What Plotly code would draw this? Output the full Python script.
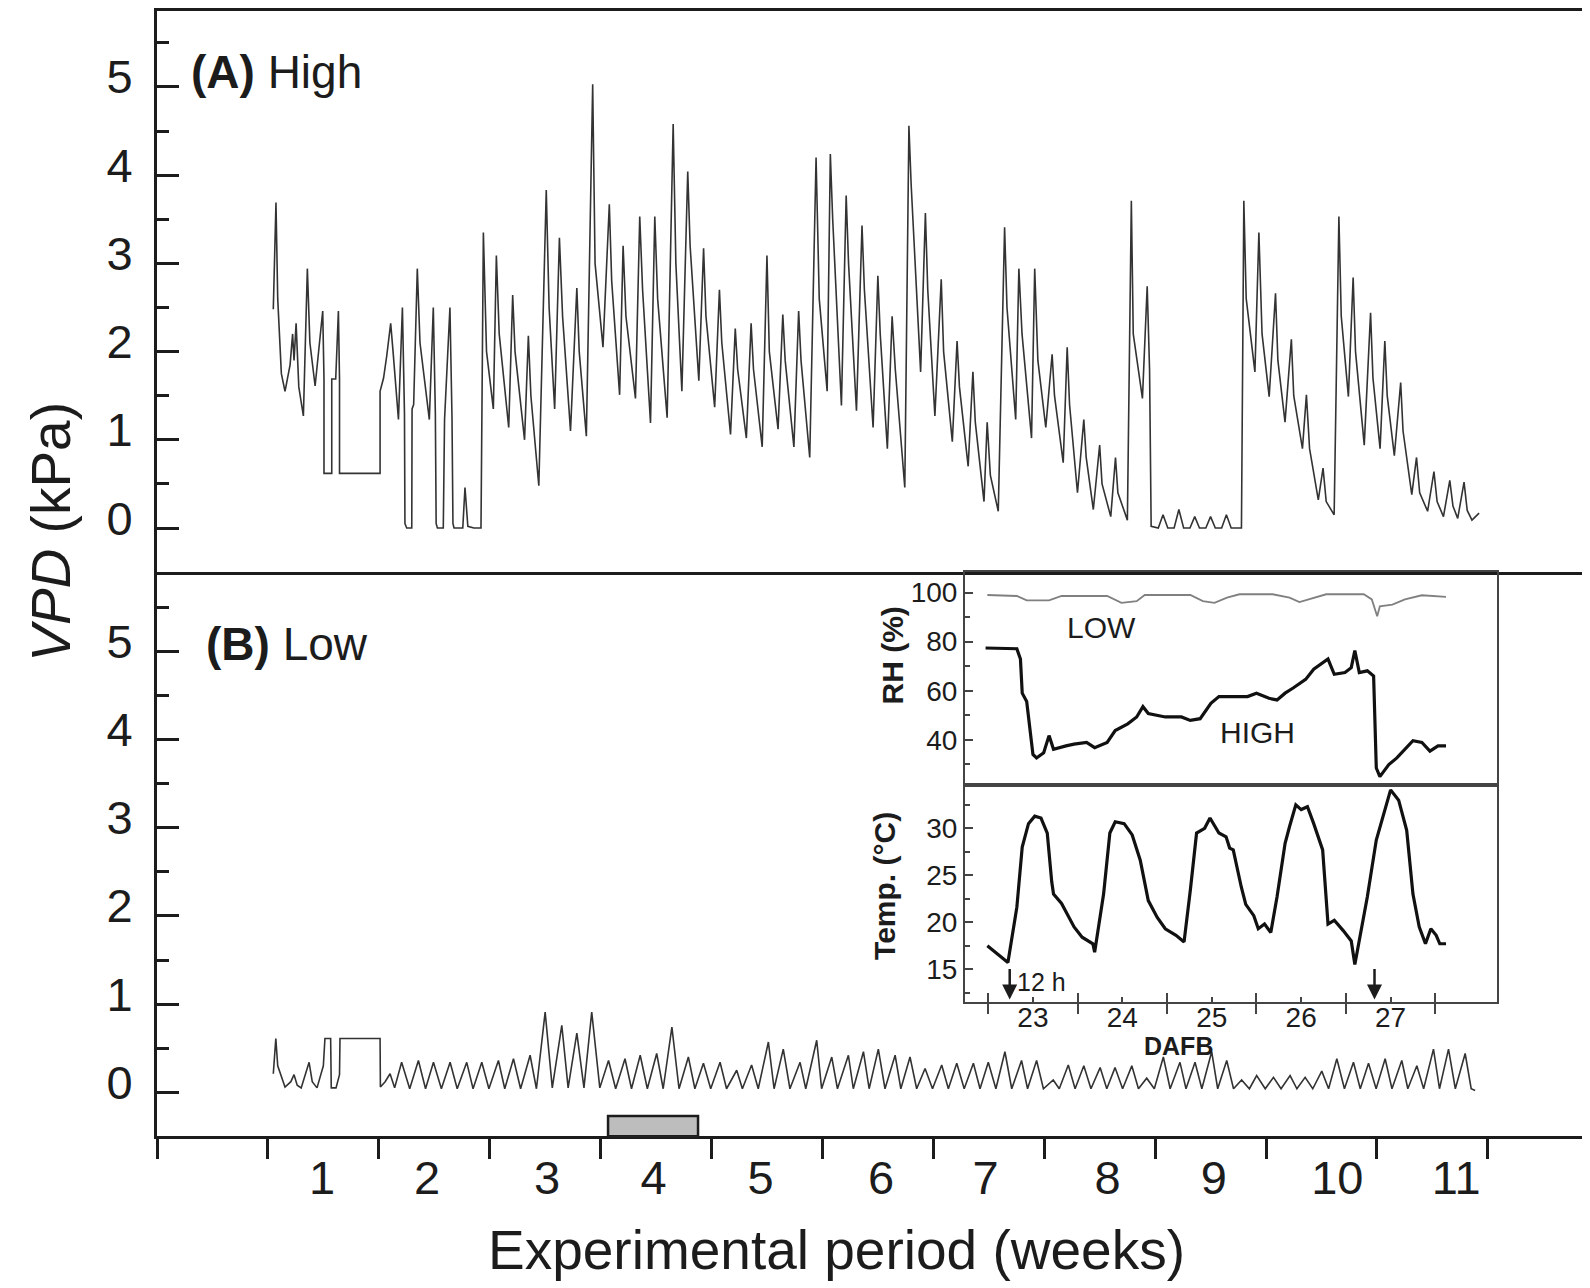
import plotly.graph_objects as go

# ---------------- data ----------------
# Panel A (High VPD): time in days from start of week 1, VPD in kPa
a_day = [0.34, 0.51, 0.62, 0.85, 1.08, 1.40, 1.56, 1.65, 1.78, 1.95, 2.24, 2.49, 2.65, 2.98,
         3.46, 3.54, 3.54, 4.03, 4.03, 4.28, 4.45, 4.52, 4.52, 7.08, 7.08, 7.30, 7.50, 7.75,
         7.90, 8.24, 8.49, 8.62, 8.65, 8.76, 9.08, 9.10, 9.20, 9.43, 9.60, 10.19, 10.44, 10.57,
         10.62, 10.70, 11.07, 11.15, 11.49, 11.62, 11.68, 11.75, 12.30, 12.44, 12.62, 13.00,
         13.45, 13.60, 13.80, 14.23, 14.42, 14.60, 15.20, 15.45, 15.60, 16.20, 16.44, 16.60,
         17.10, 17.57, 17.75, 18.10, 18.40, 18.60, 19.10, 19.50, 19.65, 20.10, 20.50, 20.65,
         21.15, 21.55, 21.70, 22.20, 22.42, 22.60, 23.20, 23.47, 23.65, 24.15, 24.42, 24.60,
         25.20, 25.58, 25.75, 26.13, 26.50, 26.65, 27.20, 27.50, 27.65, 28.20, 28.50, 28.65,
         29.20, 29.50, 29.65, 30.20, 30.50, 30.65, 31.20, 31.50, 31.65, 32.20, 32.50, 32.65,
         33.20, 33.50, 33.65, 34.20, 34.60, 34.80, 35.30, 35.50, 35.65, 36.20, 36.50, 36.65,
         37.15, 37.50, 37.65, 38.20, 38.50, 38.65, 39.10, 39.40, 39.60, 40.20, 40.46, 40.60,
         41.20, 41.50, 41.65, 42.10, 42.50, 42.65, 43.20, 43.50, 43.65, 44.20, 44.50, 44.65,
         45.20, 45.40, 45.60, 46.10, 46.50, 46.65, 47.20, 47.40, 47.60, 48.20, 48.40, 48.60,
         49.10, 49.50, 49.65, 50.20, 50.45, 50.60, 51.10, 51.50, 51.65, 52.10, 52.50, 52.65,
         53.20, 53.50, 53.65, 54.25, 54.50, 54.62, 55.20, 55.50, 55.65, 55.75, 56.20, 56.50,
         56.80, 57.20, 57.50, 57.80, 58.20, 58.50, 58.80, 59.20, 59.50, 59.80, 60.20, 60.50,
         60.80, 61.45, 61.60, 61.75, 62.30, 62.55, 62.75, 63.20, 63.60, 63.75, 64.20, 64.60,
         64.75, 65.30, 65.55, 65.75, 66.30, 66.60, 66.80, 67.30, 67.60, 67.75, 68.20, 68.50,
         68.65, 69.20, 69.60, 69.75, 70.20, 70.50, 70.65, 71.10, 71.50, 71.65, 72.20, 72.50,
         72.70, 73.20, 73.60, 73.80, 74.20, 74.60, 74.80, 75.10, 75.50, 75.70, 76.00, 76.45]
a_vpd = [2.48, 3.69, 2.60, 1.75, 1.55, 1.85, 2.20, 1.90, 2.32, 1.60, 1.27, 2.94, 2.10, 1.61,
         2.46, 1.69, 0.62, 0.62, 1.69, 1.69, 2.46, 1.69, 0.62, 0.62, 1.55, 1.70, 1.95, 2.32,
         2.00, 1.23, 2.50, 1.30, 0.05, 0.00, 0.00, 1.35, 1.40, 2.94, 2.10, 1.23, 2.50, 1.30,
         0.05, 0.00, 0.00, 1.23, 2.50, 1.25, 0.05, 0.00, 0.00, 0.46, 0.02, 0.00,
         0.00, 3.35, 2.00, 1.35, 3.09, 2.20, 1.14, 2.64, 2.00, 1.00, 2.18, 1.50,
         0.48, 3.83, 2.50, 1.35, 3.29, 2.40, 1.10, 2.72, 2.00, 1.04, 5.03, 3.00,
         2.05, 3.67, 2.80, 1.51, 3.20, 2.40, 1.47, 3.53, 2.70, 1.19, 3.53, 2.60,
         1.25, 4.58, 3.00, 1.55, 4.04, 3.20, 1.67, 3.17, 2.40, 1.37, 2.70, 2.10,
         1.06, 2.26, 1.80, 1.02, 2.32, 1.80, 0.92, 3.09, 2.00, 1.12, 2.42, 1.90,
         0.92, 2.46, 1.90, 0.80, 4.20, 2.60, 1.55, 4.24, 3.50, 1.39, 3.77, 3.00,
         1.33, 3.43, 2.70, 1.14, 2.86, 2.20, 0.90, 2.40, 1.80, 0.46, 4.56, 3.90,
         1.77, 3.57, 2.70, 1.27, 2.82, 2.00, 0.98, 2.12, 1.60, 0.70, 1.77, 1.20,
         0.30, 1.20, 0.60, 0.19, 3.41, 2.50, 1.23, 2.94, 2.20, 1.02, 2.94, 1.90,
         1.14, 1.97, 1.50, 0.74, 2.05, 1.40, 0.40, 1.23, 0.80, 0.21, 0.94, 0.50,
         0.13, 0.80, 0.40, 0.09, 3.71, 2.20, 1.47, 2.74, 1.80, 0.02, 0.00, 0.15,
         0.00, 0.00, 0.21, 0.00, 0.00, 0.13, 0.00, 0.00, 0.13, 0.00, 0.00, 0.15,
         0.00, 0.00, 3.71, 2.60, 1.77, 3.35, 2.20, 1.49, 2.66, 1.90, 1.20, 2.14,
         1.50, 0.90, 1.51, 0.90, 0.32, 0.68, 0.30, 0.15, 3.53, 2.40, 1.49, 2.84,
         2.00, 0.94, 2.44, 1.70, 0.90, 2.12, 1.50, 0.82, 1.65, 1.10, 0.38, 0.80,
         0.40, 0.19, 0.64, 0.30, 0.13, 0.54, 0.25, 0.11, 0.52, 0.20, 0.09, 0.17]

# Panel B (Low VPD)
b_day = [0.34, 0.50, 0.62, 1.08, 1.45, 1.65, 1.85, 2.10, 2.60, 2.80, 3.10, 3.50, 3.60, 3.96,
         4.00, 4.30, 4.52, 4.55, 7.08, 7.10, 7.40, 7.71, 8.00,
         8.44, 8.95, 9.50, 9.95, 10.45, 10.95, 11.50, 11.95, 12.55, 12.95, 13.50, 13.95,
         14.55, 14.95, 15.50, 15.95, 16.55, 16.95, 17.50, 17.95, 18.55, 18.95, 19.50, 19.95,
         20.44, 20.95, 21.50, 21.95, 22.54, 22.95, 23.50, 23.95, 24.54, 24.95, 25.50, 25.95,
         26.54, 26.95, 27.49, 27.95, 28.54, 28.95, 29.59, 29.95, 30.53, 30.95, 31.59, 31.95,
         32.53, 32.95, 33.59, 33.95, 34.64, 34.95, 35.59, 35.95, 36.64, 36.95, 37.59, 37.95,
         38.53, 38.95, 39.59, 39.95, 40.53, 40.95, 41.48, 41.95, 42.53, 42.95, 43.48, 43.95,
         44.53, 44.95, 45.47, 45.95, 46.52, 46.95, 47.57, 47.95, 48.52, 48.95, 49.57, 49.95,
         50.52, 50.95, 51.50, 51.95, 52.53, 52.95, 53.47, 53.95, 54.53, 54.95, 55.47, 55.95,
         56.52, 56.95, 57.57, 57.95, 58.52, 58.95, 59.57, 59.95, 60.52, 60.95, 61.46, 61.95,
         62.41, 62.95, 63.47, 63.95, 64.52, 64.95, 65.47, 65.95, 66.52, 66.95, 67.47, 67.95,
         68.52, 68.95, 69.47, 69.95, 70.52, 70.95, 71.57, 71.95, 72.52, 72.95, 73.57, 73.95,
         74.52, 74.95, 75.57, 75.95, 76.20]
b_vpd = [0.21, 0.61, 0.30, 0.06, 0.12, 0.20, 0.08, 0.05, 0.34, 0.12, 0.05, 0.30, 0.61, 0.61,
         0.05, 0.05, 0.20, 0.61, 0.61, 0.06, 0.12, 0.21, 0.05,
         0.34, 0.04, 0.36, 0.04, 0.34, 0.04, 0.34, 0.04, 0.34, 0.04, 0.34, 0.04,
         0.36, 0.04, 0.38, 0.04, 0.42, 0.04, 0.91, 0.05, 0.76, 0.05, 0.67, 0.05,
         0.91, 0.05, 0.36, 0.04, 0.38, 0.04, 0.42, 0.04, 0.44, 0.04, 0.74, 0.04,
         0.40, 0.04, 0.33, 0.04, 0.34, 0.04, 0.25, 0.04, 0.31, 0.04, 0.57, 0.04,
         0.49, 0.04, 0.34, 0.04, 0.59, 0.04, 0.40, 0.04, 0.42, 0.04, 0.46, 0.04,
         0.49, 0.04, 0.42, 0.04, 0.40, 0.04, 0.27, 0.04, 0.31, 0.04, 0.33, 0.04,
         0.33, 0.04, 0.34, 0.04, 0.46, 0.04, 0.36, 0.04, 0.36, 0.04, 0.14, 0.04,
         0.31, 0.04, 0.30, 0.04, 0.28, 0.04, 0.28, 0.04, 0.30, 0.04, 0.16, 0.04,
         0.40, 0.04, 0.34, 0.04, 0.34, 0.04, 0.46, 0.04, 0.36, 0.04, 0.14, 0.04,
         0.19, 0.04, 0.17, 0.04, 0.19, 0.04, 0.17, 0.04, 0.24, 0.04, 0.38, 0.04,
         0.34, 0.04, 0.33, 0.04, 0.38, 0.04, 0.36, 0.04, 0.30, 0.04, 0.49, 0.04,
         0.49, 0.04, 0.44, 0.04, 0.02]

# Week boundaries (days) and week labels
week_tick_days = [-7, 0, 7, 14, 21, 28, 35, 42, 49, 56, 63, 70, 77]
week_label_days = [3.42, 10.04, 17.62, 24.35, 31.1, 38.7, 45.3, 53.0, 59.7, 67.5, 75.0]
week_labels = ["1", "2", "3", "4", "5", "6", "7", "8", "9", "10", "11"]
vpd_ticks = [0, 1, 2, 3, 4, 5]
vpd_minor = [0.5, 1.5, 2.5, 3.5, 4.5, 5.5]

# Gray bar marking the inset period (days, VPD)
bar_days = [21.47, 27.15]
bar_vpd = [-0.5, -0.27]

# Inset: RH (%) and temperature vs DAFB
rh_high_day = [22.47, 22.82, 22.86, 22.88, 22.93, 23.0, 23.04, 23.12, 23.18, 23.23, 23.37, 23.46,
               23.6, 23.69, 23.83, 23.92, 24.06, 24.16, 24.23, 24.29, 24.48, 24.66, 24.76, 24.87,
               24.99, 25.08, 25.22, 25.4, 25.5, 25.64, 25.73, 25.82, 25.91, 26.05, 26.14, 26.24,
               26.3, 26.37, 26.49, 26.56, 26.6, 26.65, 26.74, 26.81, 26.84, 26.88, 26.98, 27.07,
               27.16, 27.25, 27.35, 27.44, 27.53, 27.62]
rh_high = [77.4, 77.1, 72.9, 59, 55.6, 34, 32.6, 34.7, 41.7, 36.1, 37.5, 38.2,
           38.9, 36.8, 38.9, 43.75, 46.5, 49.3, 53.5, 50.7, 49.3, 49.3, 47.9, 48.6,
           54.9, 57.6, 57.6, 57.6, 59, 56.9, 56.25, 59, 61.1, 64.6, 68.75, 71.5,
           72.9, 66.7, 67.4, 69.4, 76.4, 67.4, 68.1, 66, 28.5, 25, 29.9, 32.6,
           36.1, 39.6, 38.9, 35.4, 37.5, 37.5]
rh_low_day = [22.49, 22.82, 22.93, 23.18, 23.32, 23.83, 23.99, 24.16, 24.25, 24.76, 24.9, 25.03,
              25.17, 25.31, 25.68, 25.87, 25.98, 26.09, 26.28, 26.7, 26.79, 26.85, 26.88, 27.02,
              27.16, 27.35, 27.62]
rh_low = [99, 98.6, 96.8, 96.8, 98.6, 98.6, 95.8, 96.5, 99, 99, 96.5, 95.8,
          97.9, 99.3, 99.3, 97.9, 96.1, 97.2, 99.3, 99.3, 97.2, 90.3, 94.4, 95.1,
          97.2, 98.9, 98.2]
temp_day = [22.49, 22.65, 22.72, 22.82, 22.88, 22.95, 23.02, 23.09, 23.16, 23.21, 23.23, 23.32,
            23.37, 23.46, 23.55, 23.67, 23.69, 23.79, 23.86, 23.92, 24.02, 24.11, 24.2, 24.29,
            24.39, 24.48, 24.6, 24.69, 24.76, 24.83, 24.92, 24.98, 25.08, 25.16, 25.2, 25.24,
            25.33, 25.38, 25.47, 25.52, 25.59, 25.66, 25.73, 25.82, 25.87, 25.94, 26.0, 26.07,
            26.14, 26.24, 26.3, 26.37, 26.47, 26.56, 26.6, 26.65, 26.74, 26.84, 26.93, 27.0,
            27.09, 27.18, 27.25, 27.32, 27.39, 27.45, 27.51, 27.55, 27.62]
temp_c = [17.5, 16.25, 15.7, 21.6, 28.0, 30.5, 31.3, 31.1, 29.5, 24.3, 23.0, 22.0,
          21.1, 19.5, 18.4, 17.7, 16.8, 23.0, 29.5, 30.7, 30.5, 29.3, 26.6, 22.3,
          20.5, 19.3, 18.6, 17.9, 23.4, 29.5, 30.0, 31.1, 29.5, 29.1, 27.9, 27.7,
          23.75, 21.9, 20.7, 19.3, 19.8, 18.9, 22.7, 28.4, 30.2, 32.5, 32.0, 32.3,
          30.5, 27.7, 19.8, 20.2, 19.1, 18.0, 15.5, 18.0, 22.7, 28.75, 31.6, 34.1,
          33.0, 29.8, 23.0, 19.5, 17.7, 19.3, 18.6, 17.7, 17.7]
dafb_ticks = [23, 24, 25, 26, 27]
dafb_bounds = [22.5, 23.5, 24.5, 25.5, 26.5, 27.5]
rh_ticks = [40, 60, 80, 100]
rh_minor = [30, 50, 70, 90]
t_ticks = [15, 20, 25, 30]
t_minor = [12.5, 17.5, 22.5, 27.5, 32.5]
arrow_days = [22.74, 26.82]

# ---------------- layout helpers ----------------
# The page adds an 8 px body margin, so the figure is drawn at (8, 8).
OFF = 8
W, H = 1590 - OFF, 1288 - OFF
FONT = "Liberation Sans, Arial, sans-serif"
INK = "#1c1c1c"


def fx(p):
    return (p - OFF) / W


def fy(p):
    return 1 - (p - OFF) / H


main_x = [fx(157), 1.0]
dom_a = [fy(570.5), 1.0]
dom_b = [fy(1136), fy(570.5)]
xr = [-7.0, 83.45]
yr_a = [-0.5, 5.86]
yr_b = [-0.5, 5.9]

ins_x = [fx(965), fx(1497)]
dom_rh = [fy(784), fy(570.5)]
dom_t = [fy(1001), fy(784)]
ixr = [22.24, 28.19]

fig = go.Figure()
line_main = dict(color="#333333", width=1.6)
fig.add_trace(go.Scatter(x=a_day, y=a_vpd, mode="lines", line=line_main, xaxis="x", yaxis="y"))
fig.add_trace(go.Scatter(x=b_day, y=b_vpd, mode="lines", line=line_main, xaxis="x2", yaxis="y2"))
fig.add_trace(go.Scatter(x=[], y=[], xaxis="x3", yaxis="y2"))
fig.add_trace(go.Scatter(x=rh_low_day, y=rh_low, mode="lines", line=dict(color="#808080", width=1.8),
                         xaxis="x4", yaxis="y4"))
fig.add_trace(go.Scatter(x=rh_high_day, y=rh_high, mode="lines", line=dict(color="#111", width=3.2),
                         xaxis="x4", yaxis="y4"))
fig.add_trace(go.Scatter(x=temp_day, y=temp_c, mode="lines", line=dict(color="#111", width=3.2),
                         xaxis="x5", yaxis="y5"))
fig.add_trace(go.Scatter(x=[], y=[], xaxis="x6", yaxis="y5"))

axis_common = dict(showgrid=False, zeroline=False, linecolor=INK, linewidth=3,
                   tickfont=dict(family=FONT, size=47, color=INK))
inset_common = dict(showgrid=False, zeroline=False, showline=True, mirror=True,
                    linecolor="#444", linewidth=2, tickcolor="#444",
                    tickfont=dict(family=FONT, size=28, color=INK))
y_main = dict(axis_common, showline=True, tickvals=vpd_ticks, ticks="inside", ticklen=22,
              tickwidth=3, tickcolor=INK, ticklabelstandoff=12, ticklabelshift=-10,
              minor=dict(tickvals=vpd_minor, ticks="inside", ticklen=12, tickwidth=3,
                         tickcolor=INK))

fig.update_layout(
    width=W, height=H, margin=dict(l=0, r=0, t=0, b=0),
    paper_bgcolor="white", plot_bgcolor="rgba(0,0,0,0)", showlegend=False,
    xaxis=dict(axis_common, domain=main_x, range=xr, anchor="y", showline=True, mirror=True,
               ticks="", showticklabels=False),
    yaxis=dict(y_main, domain=dom_a, range=yr_a, anchor="x"),
    xaxis2=dict(axis_common, domain=main_x, range=xr, anchor="y2", showline=True,
                tickvals=week_label_days, ticktext=week_labels, ticks="",
                ticklabelstandoff=-2),
    xaxis3=dict(axis_common, range=xr, anchor="y2", overlaying="x2", side="bottom",
                showline=False, tickvals=week_tick_days, ticks="outside", ticklen=22,
                tickwidth=3, tickcolor=INK, showticklabels=False),
    yaxis2=dict(y_main, domain=dom_b, range=yr_b, anchor="x2"),
    xaxis4=dict(inset_common, domain=ins_x, range=ixr, anchor="y4", ticks="",
                showticklabels=False),
    yaxis4=dict(inset_common, domain=dom_rh, range=[21.5, 108.3], anchor="x4",
                tickvals=rh_ticks, ticks="inside", ticklen=8, tickwidth=1.5,
                minor=dict(tickvals=rh_minor, ticks="inside", ticklen=5,
                           tickwidth=1.5, tickcolor="#444")),
    xaxis5=dict(inset_common, domain=ins_x, range=ixr, anchor="y5",
                tickvals=dafb_ticks, ticks="inside", ticklen=5, tickwidth=1.5,
                ticklabelstandoff=-10,
                minor=dict(tickvals=dafb_bounds, ticks="outside", ticklen=10, tickwidth=2,
                           tickcolor="#444")),
    xaxis6=dict(range=ixr, anchor="y5", overlaying="x5", side="bottom",
                showline=False, showgrid=False, zeroline=False,
                tickvals=dafb_bounds, ticks="inside", ticklen=9, tickwidth=2,
                tickcolor="#444", showticklabels=False),
    yaxis5=dict(inset_common, domain=dom_t, range=[11.53, 34.6], anchor="x5",
                tickvals=t_ticks, ticks="inside", ticklen=8, tickwidth=1.5,
                minor=dict(tickvals=t_minor, ticks="inside", ticklen=5,
                           tickwidth=1.5, tickcolor="#444")),
)

# gray bar
fig.add_shape(type="rect", xref="x2", yref="y2", x0=bar_days[0], x1=bar_days[1],
              y0=bar_vpd[0], y1=bar_vpd[1], fillcolor="#bdbdbd", line=dict(color=INK, width=2.5))


def paper_text(text, px, py, size, angle=0, xanchor="center"):
    return dict(text=text, x=fx(px), y=fy(py), xref="paper", yref="paper", textangle=angle,
                xanchor=xanchor, yanchor="middle", showarrow=False,
                font=dict(family=FONT, size=size, color=INK))


ann = [
    paper_text("<i>VPD</i> (kPa)", 51, 530, 55, angle=-90),
    paper_text("Experimental period (weeks)", 836, 1250, 55),
    paper_text("<b>(A)</b> High", 189, 69, 46, xanchor="left"),
    paper_text("<b>(B)</b> Low", 204, 642, 46, xanchor="left"),
    paper_text("<b>RH (%)</b>", 892, 654, 30, angle=-90),
    paper_text("<b>Temp. (°C)</b>", 885, 885, 30, angle=-90),
    paper_text("<b>DAFB</b>", 1178, 1045, 25),
    dict(text="LOW", x=23.77, y=85.8, xref="x4", yref="y4", showarrow=False,
         font=dict(family=FONT, size=30, color=INK)),
    dict(text="HIGH", x=25.51, y=42.9, xref="x4", yref="y4", showarrow=False,
         font=dict(family=FONT, size=30, color=INK)),
    dict(text="12 h", x=22.80, y=13.6, xref="x5", yref="y5", xanchor="left", yanchor="middle",
         showarrow=False, font=dict(family=FONT, size=25, color=INK)),
]
for d in arrow_days:
    ann.append(dict(text="", x=d, y=11.75, xref="x5", yref="y5", showarrow=True, ax=0, ay=-32,
                    arrowhead=2, arrowsize=1.2, arrowwidth=2.5, arrowcolor=INK))
fig.update_layout(annotations=ann)

fig.write_html("out.html")
